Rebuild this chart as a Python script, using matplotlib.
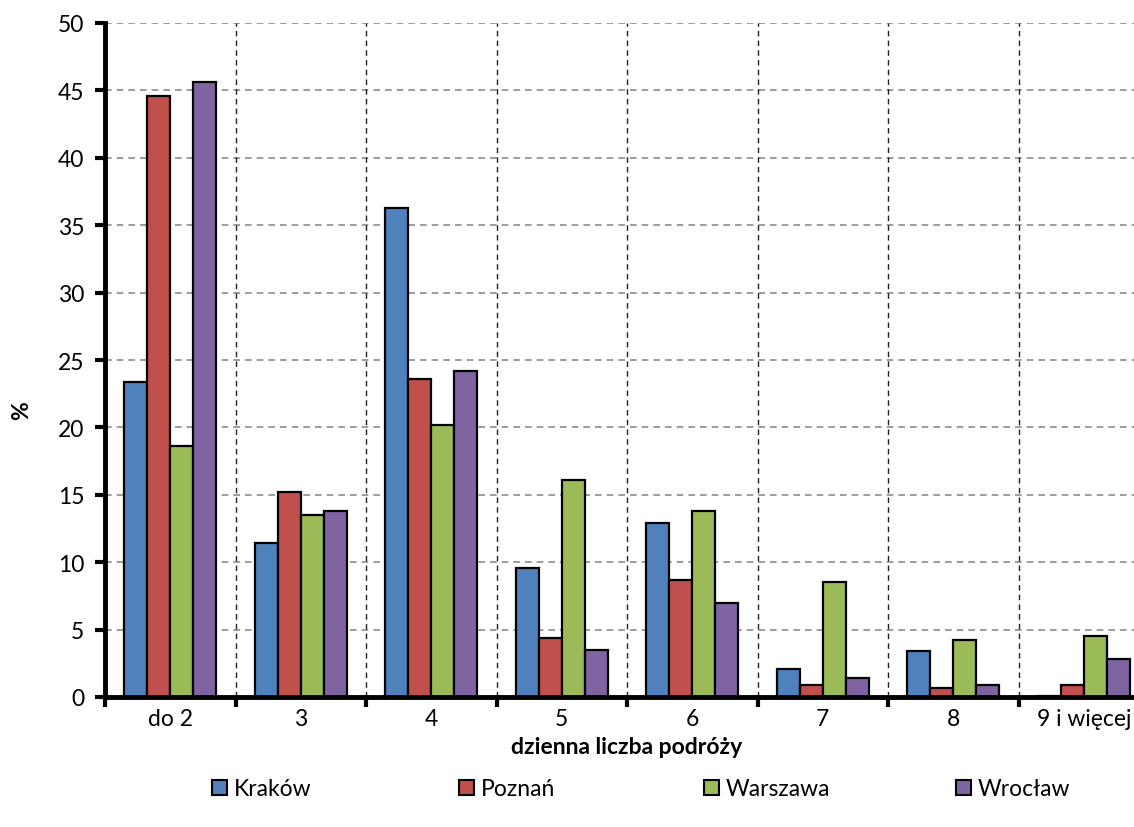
import matplotlib
matplotlib.use("Agg")
import matplotlib.pyplot as plt
from matplotlib.patches import Patch
import numpy as np

categories = ["do 2", "3", "4", "5", "6", "7", "8", "9 i więcej"]
krakow = [23.4, 11.4, 36.3, 9.6, 12.9, 2.1, 3.4, 0.1]
poznan = [44.6, 15.2, 23.6, 4.4, 8.7, 0.9, 0.7, 0.9]
warszawa = [18.6, 13.5, 20.2, 16.1, 13.8, 8.5, 4.2, 4.5]
wroclaw = [45.6, 13.8, 24.2, 3.5, 7.0, 1.4, 0.9, 2.8]
series_names = ["Kraków", "Poznań", "Warszawa", "Wrocław"]
colors = ["#4F81BD", "#C0504D", "#9BBB59", "#8064A2"]
y_ticks = [0, 5, 10, 15, 20, 25, 30, 35, 40, 45, 50]

plt.rcParams["font.family"] = ["Lato", "DejaVu Sans"]
FS = 16.5

W, H = 1134, 828
fig = plt.figure(figsize=(W / 100, H / 100), dpi=100)
ax = fig.add_axes([105 / W, (H - 698) / H, 1044 / W, 674 / H])

x = np.arange(len(categories))
bw = 0.176
series = [krakow, poznan, warszawa, wroclaw]
for i, (vals, c) in enumerate(zip(series, colors)):
    ax.bar(x + (i - 1.5) * bw, vals, width=bw, color=c,
           edgecolor="black", linewidth=1.6, zorder=3)

ax.set_xlim(-0.5, len(categories) - 0.5)
ax.set_ylim(0, 50)
ax.set_yticks(y_ticks)
ax.set_xticks(x)
ax.set_xticklabels(categories, fontsize=FS)
ax.set_xticks(np.arange(-0.5, len(categories)), minor=True)
ax.tick_params(axis="x", which="major", length=0, pad=8)
ax.tick_params(axis="x", which="minor", length=7, width=3, direction="out")
ax.tick_params(axis="y", length=7, width=3, direction="out", labelsize=FS, pad=8)

# grid: grey dashed horizontals, dark dashed verticals at category borders
for yv in y_ticks[1:]:
    ax.axhline(yv, color="#8c8c8c", linestyle=(0, (4, 3)), linewidth=1.2, zorder=1)
for xv in np.arange(0.5, len(categories) - 0.5):
    ax.axvline(xv, color="#222222", linestyle=(0, (4, 3)), linewidth=1.0, zorder=1)

for s in ["top", "right"]:
    ax.spines[s].set_visible(False)
for s in ["left", "bottom"]:
    ax.spines[s].set_linewidth(3.5)
    ax.spines[s].set_zorder(4)

ax.set_xlabel("dzienna liczba podróży", fontsize=FS, fontweight="bold", labelpad=5)
ax.set_ylabel("%", fontsize=FS, fontweight="bold")
ax.yaxis.set_label_coords(-0.07, 0.427)

legend_x = [212, 459, 704, 956]
for name, c, lx in zip(series_names, colors, legend_x):
    fig.legend(handles=[Patch(facecolor=c, edgecolor="black", linewidth=1.5)],
               labels=[name], loc="center left",
               bbox_to_anchor=(lx / W, 1 - 790 / H), frameon=False,
               fontsize=FS, handlelength=0.65, handleheight=0.65,
               handletextpad=0.3, borderpad=0, borderaxespad=0)

fig.savefig("out.png", dpi=100)
